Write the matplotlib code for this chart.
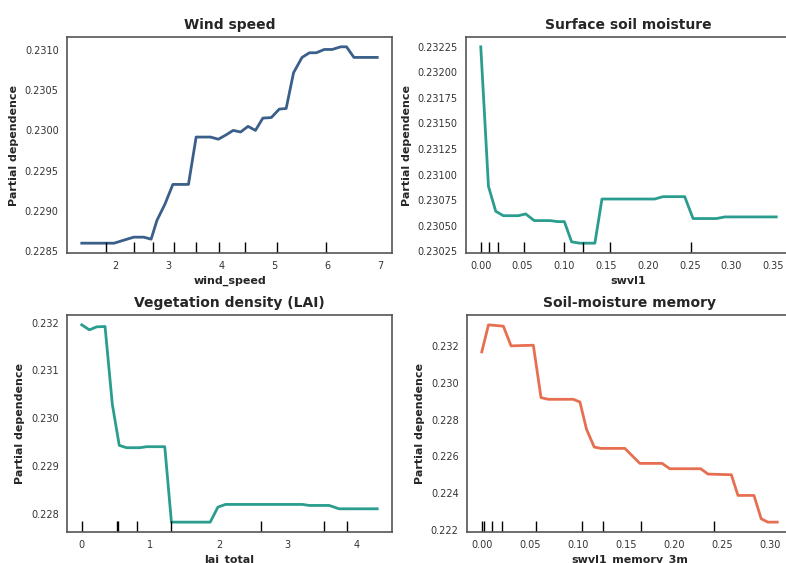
import numpy as np
import matplotlib
matplotlib.use("Agg")
import matplotlib.pyplot as plt

# Partial dependence curves
wind_x = [1.36, 1.97, 2.34, 2.53, 2.67, 2.78, 2.93, 3.08, 3.375, 3.52, 3.79, 3.94, 4.09, 4.22,
          4.36, 4.50, 4.64, 4.78, 4.94, 5.09, 5.22, 5.36, 5.52, 5.66, 5.79, 5.94, 6.09, 6.25,
          6.36, 6.50, 6.94]
wind_y = [0.228595, 0.228595, 0.22867, 0.22867, 0.228645, 0.22888, 0.22908, 0.229327, 0.229327,
          0.229917, 0.229917, 0.22989, 0.229946, 0.2300, 0.22998, 0.23005, 0.2300, 0.230153,
          0.23016, 0.230265, 0.230273, 0.230719, 0.230909, 0.230967, 0.230967, 0.231008,
          0.231008, 0.231041, 0.231041, 0.230909, 0.230909]
wind_deciles = [1.81, 2.34, 2.70, 3.11, 3.51, 3.95, 4.44, 5.04, 5.97]

swvl1_x = [0.0, 0.0092, 0.0179, 0.027, 0.045, 0.0537, 0.064, 0.083, 0.092, 0.10, 0.1087, 0.1186,
           0.1365, 0.145, 0.208, 0.218, 0.244, 0.254, 0.282, 0.292, 0.3535]
swvl1_y = [0.23225, 0.230885, 0.230641, 0.230598, 0.230598, 0.230615, 0.23055, 0.23055, 0.23054,
           0.23054, 0.230342, 0.230329, 0.230329, 0.230761, 0.230761, 0.230784, 0.230784,
           0.23057, 0.23057, 0.230586, 0.230586]
swvl1_deciles = [0.0, 0.0093, 0.021, 0.0517, 0.099, 0.122, 0.155, 0.2517]

lai_x = [0.0, 0.111, 0.218, 0.339, 0.445, 0.546, 0.653, 0.846, 0.943, 1.209, 1.306, 1.871, 1.983,
         2.094, 3.216, 3.313, 3.603, 3.748, 4.304]
lai_y = [0.231951, 0.231847, 0.23191, 0.231917, 0.230296, 0.22944, 0.229391, 0.229391, 0.229412,
         0.229412, 0.22784, 0.22784, 0.228153, 0.228209, 0.228209, 0.228188, 0.228188, 0.228118,
         0.228118]
lai_deciles = [0.0, 0.507, 0.522, 0.806, 1.304, 2.617, 3.526, 3.87]

mem_x = [0.0, 0.007, 0.0225, 0.0305, 0.0537, 0.0617, 0.0693, 0.0953, 0.1022, 0.1091, 0.1171,
         0.124, 0.149, 0.1646, 0.1878, 0.1958, 0.228, 0.2356, 0.2599, 0.2668, 0.2835, 0.291,
         0.298, 0.3077]
mem_y = [0.231674, 0.233141, 0.233069, 0.232, 0.232036, 0.229192, 0.229101, 0.229101, 0.228957,
         0.227471, 0.226511, 0.226438, 0.226438, 0.225623, 0.225623, 0.225333, 0.225333,
         0.225043, 0.225007, 0.223884, 0.223884, 0.222616, 0.222435, 0.222435]
mem_deciles = [0.0, 0.0028, 0.0104, 0.0208, 0.0566, 0.104, 0.126, 0.166, 0.242]

BLUE = "#3a5f8a"
TEAL = "#2a9d8f"
CORAL = "#e76f51"


def pd_panel(ax, x, y, deciles, color, title, xlabel):
    ax.plot(x, y, color=color, lw=2)
    # deciles rug, like sklearn's PartialDependenceDisplay
    trans = ax.get_xaxis_transform()
    ax.vlines(deciles, 0, 0.05, transform=trans, colors="k", lw=1)
    ax.set_title(title, fontsize=10, fontweight="bold", color="#262626")
    ax.set_xlabel(xlabel, fontsize=8, fontweight="bold", color="#262626", labelpad=3)
    ax.set_ylabel("Partial dependence", fontsize=8, fontweight="bold", color="#262626")
    ax.ticklabel_format(axis="y", useOffset=False, style="plain")
    ax.tick_params(length=0, pad=6, labelsize=7, labelcolor="#333333")
    for s in ax.spines.values():
        s.set_color("#555555")
        s.set_linewidth(1.2)


fig = plt.figure(figsize=(7.86, 5.63), dpi=100)
W, H = 786, 563

ax1 = fig.add_axes([67 / W, (H - 253) / H, 325 / W, 216 / H])
ax2 = fig.add_axes([466 / W, (H - 253) / H, 325 / W, 216 / H])
ax3 = fig.add_axes([67 / W, (H - 532) / H, 325 / W, 217 / H])
ax4 = fig.add_axes([467 / W, (H - 532) / H, 325 / W, 217 / H])

pd_panel(ax1, wind_x, wind_y, wind_deciles, BLUE, "Wind speed", "wind_speed")
pd_panel(ax2, swvl1_x, swvl1_y, swvl1_deciles, TEAL, "Surface soil moisture", "swvl1")
pd_panel(ax3, lai_x, lai_y, lai_deciles, TEAL, "Vegetation density (LAI)", "lai_total")
pd_panel(ax4, mem_x, mem_y, mem_deciles, CORAL, "Soil-moisture memory", "swvl1_memory_3m")

fig.savefig("out.png", dpi=100)
